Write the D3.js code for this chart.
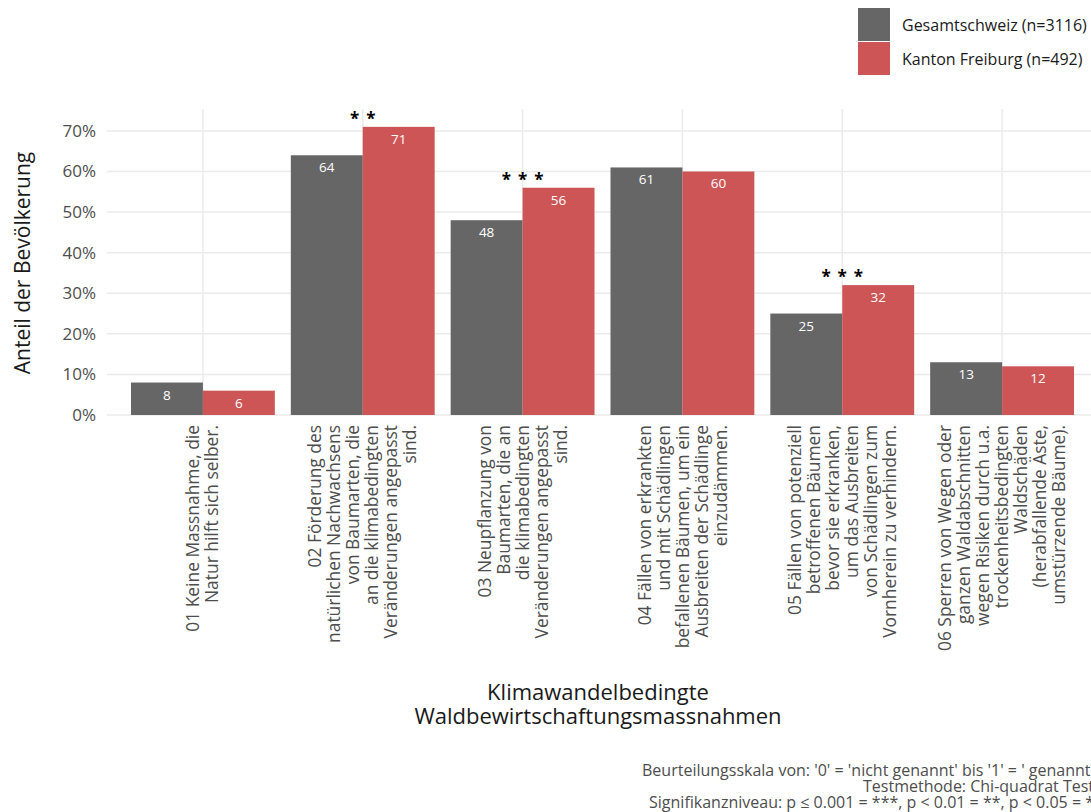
<!DOCTYPE html>
<html>
<head>
<meta charset="utf-8">
<script src="https://cdn.jsdelivr.net/npm/d3@7"></script>
<style>
  html, body { margin: 0; padding: 0; background: #fff; }
  svg { display: block; }
  text { font-family: "Open Sans", sans-serif; }
</style>
</head>
<body>
<svg id="chart" width="1091" height="812"></svg>
<script>
// Measures (x categories), one string per wrapped line
const categories = [
  ["01 Keine Massnahme, die", "Natur hilft sich selber."],
  ["02 Förderung des", "natürlichen Nachwachsens", "von Baumarten, die", "an die klimabedingten", "Veränderungen angepasst", "sind."],
  ["03 Neupflanzung von", "Baumarten, die an", "die klimabedingten", "Veränderungen angepasst", "sind."],
  ["04 Fällen von erkrankten", "und mit Schädlingen", "befallenen Bäumen, um ein", "Ausbreiten der Schädlinge", "einzudämmen."],
  ["05 Fällen von potenziell", "betroffenen Bäumen", "bevor sie erkranken,", "um das Ausbreiten", "von Schädlingen zum", "Vornherein zu verhindern."],
  ["06 Sperren von Wegen oder", "ganzen Waldabschnitten", "wegen Risiken durch u.a.", "trockenheitsbedingten", "Waldschäden", "(herabfallende Äste,", "umstürzende Bäume)."]
];
const groups = ["Gesamtschweiz (n=3116)", "Kanton Freiburg (n=492)"];
const valuesSchweiz = [8, 64, 48, 61, 25, 13];
const valuesFreiburg = [6, 71, 56, 60, 32, 12];
const significance = ["", "* *", "* * *", "", "* * *", ""];
const yTicks = [0, 10, 20, 30, 40, 50, 60, 70];
const colors = ["#666666", "#CD5555"];
const captionLines = [
  "Beurteilungsskala von: '0' = 'nicht genannt' bis '1' = ' genannt'",
  "Testmethode: Chi-quadrat Test",
  "Signifikanzniveau: p \u2264 0.001 = ***, p < 0.01 = **, p < 0.05 = *"
];

const svg = d3.select("#chart");
const panel = { left: 107, right: 1098, top: 109, bottom: 415 };

const catIdx = d3.range(categories.length);
// discrete axis with 0.6 band expansion on each side
const x = d3.scalePoint().domain(catIdx).range([panel.left, panel.right]).padding(0.6);
const step = x.step();
const barW = step * 0.45;
const y = d3.scaleLinear().domain([0, 75.4]).range([panel.bottom, panel.top]);

// grid
const grid = svg.append("g");
grid.selectAll("line.h").data(yTicks).join("line")
  .attr("x1", panel.left).attr("x2", panel.right)
  .attr("y1", d => y(d)).attr("y2", d => y(d))
  .attr("stroke", "#EBEBEB").attr("stroke-width", 1.5);
grid.selectAll("line.v").data(catIdx).join("line")
  .attr("x1", d => x(d)).attr("x2", d => x(d))
  .attr("y1", panel.top).attr("y2", panel.bottom)
  .attr("stroke", "#EBEBEB").attr("stroke-width", 1.5);

// y axis labels
const yAxis = d3.axisLeft(y).tickValues(yTicks).tickFormat(d => d + "%").tickSize(0).tickPadding(11);
const yg = svg.append("g").attr("transform", `translate(${panel.left},0)`).call(yAxis);
yg.select(".domain").remove();
yg.selectAll("text").attr("font-family", "Open Sans").attr("font-size", 17).attr("fill", "#4D4D4D");

// bars
const series = [valuesSchweiz, valuesFreiburg];
series.forEach((vals, s) => {
  const g = svg.append("g");
  g.selectAll("rect").data(vals).join("rect")
    .attr("x", (d, i) => x(i) + (s === 0 ? -barW : 0))
    .attr("width", barW)
    .attr("y", d => y(d))
    .attr("height", d => y(0) - y(d))
    .attr("fill", colors[s]);
  g.selectAll("text").data(vals).join("text")
    .attr("x", (d, i) => x(i) + (s === 0 ? -barW / 2 : barW / 2))
    .attr("y", d => y(d) + 17)
    .attr("text-anchor", "middle")
    .attr("font-family", "Liberation Sans, Arial, sans-serif")
    .attr("font-size", 13.5)
    .attr("fill", "#FFFFFF")
    .text(d => d);
});

// significance stars above the taller bar
svg.append("g").selectAll("text").data(significance).join("text")
  .attr("x", (d, i) => x(i))
  .attr("y", (d, i) => y(Math.max(valuesSchweiz[i], valuesFreiburg[i])) - 2)
  .attr("text-anchor", "middle")
  .attr("font-family", "Liberation Sans, Arial, sans-serif")
  .attr("font-weight", "bold")
  .attr("font-size", 17)
  .attr("word-spacing", 2.5)
  .attr("fill", "#000")
  .text(d => d);

// x category labels, rotated and right-aligned
const lh = 19;
const xl = svg.append("g");
categories.forEach((lines, i) => {
  const n = lines.length;
  lines.forEach((line, j) => {
    const cx = x(i) + (j - (n - 1) / 2) * lh;
    xl.append("text")
      .attr("transform", `translate(${cx},425) rotate(-90)`)
      .attr("text-anchor", "end")
      .attr("dy", "0.35em")
      .attr("font-size", 17.4)
      .attr("fill", "#4D4D4D")
      .text(line);
  });
});

// axis titles
svg.append("text")
  .attr("transform", `translate(30,${(panel.top + panel.bottom) / 2 + 1}) rotate(-90)`)
  .attr("text-anchor", "middle")
  .attr("font-size", 21)
  .attr("fill", "#1A1A1A")
  .text("Anteil der Bevölkerung");

["Klimawandelbedingte", "Waldbewirtschaftungsmassnahmen"].forEach((t, i) => {
  svg.append("text")
    .attr("x", 598).attr("y", 700 + i * 24)
    .attr("text-anchor", "middle")
    .attr("font-size", 22)
    .attr("fill", "#1A1A1A")
    .text(t);
});

// legend
const lg = svg.append("g");
groups.forEach((gname, i) => {
  lg.append("rect").attr("x", 858).attr("y", 8 + i * 34).attr("width", 32).attr("height", 33).attr("fill", colors[i]);
  lg.append("text").attr("x", 902).attr("y", 25 + i * 34).attr("dy", "0.35em")
    .attr("font-size", 16).attr("fill", "#1A1A1A").text(gname);
});

// caption
captionLines.forEach((t, i) => {
  svg.append("text")
    .attr("x", 1094).attr("y", 776 + i * 16)
    .attr("text-anchor", "end")
    .attr("font-size", 16)
    .attr("fill", "#4D4D4D")
    .text(t);
});
</script>
</body>
</html>
